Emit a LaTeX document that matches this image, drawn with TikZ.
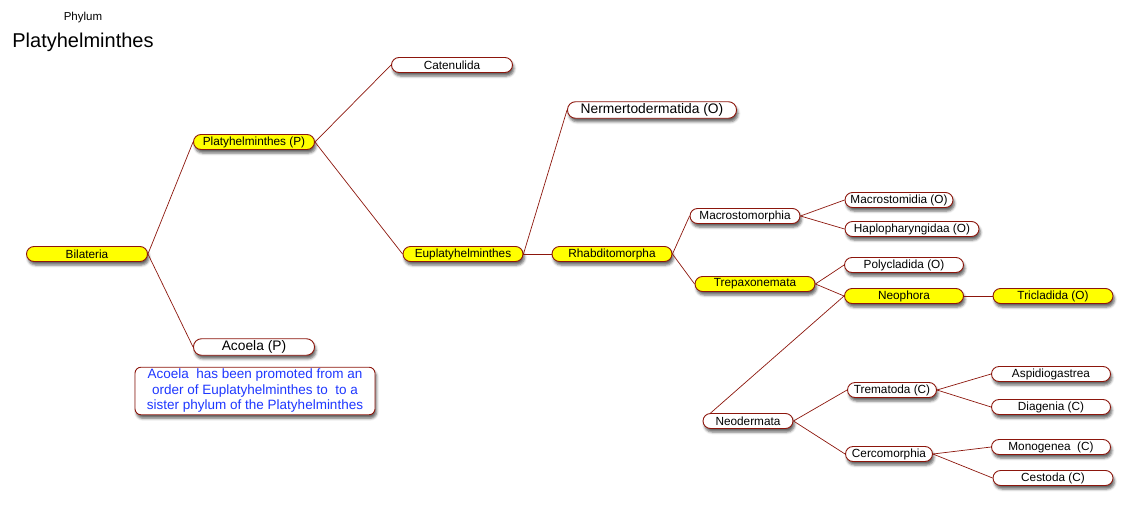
\documentclass[tikz,border=0pt]{standalone}
\usepackage{fontspec}
\setmainfont{Liberation Sans}
\usetikzlibrary{shadows.blur, positioning}
\definecolor{brick}{RGB}{140,22,12}
\definecolor{notetext}{RGB}{30,55,255}
\definecolor{hilite}{RGB}{255,255,0}

\begin{document}
\begin{tikzpicture}[
  x=1pt, y=-1pt,
  taxon/.style={draw=brick, line width=0.9pt, rounded corners=7.5pt, fill=#1,
    minimum height=15pt, inner sep=1pt, font=\fontsize{11.8}{12}\selectfont,
    blur shadow={shadow xshift=1.5pt, shadow yshift=-3.5pt, shadow opacity=60, shadow blur radius=2.5pt}},
  taxon/.default=white,
  bigtaxon/.style={minimum height=16.5pt, rounded corners=8pt, font=\fontsize{13.8}{14}\selectfont},
  link/.style={draw=brick, line width=0.7pt},
]
\useasboundingbox (0,0) rectangle (1133,509);

% Heading
\node (phylum) at (83,18) {\fontsize{11.5}{12}\selectfont Phylum};
\node (heading) at (83,42) {\fontsize{20}{22}\selectfont Platyhelminthes};

% Root and first split
\node[taxon=hilite, minimum width=121pt] (bilateria) at (87,254) {Bilateria};
\node[taxon=hilite, minimum width=121pt] (platy) at (254,142) {Platyhelminthes (P)};
\node[taxon, bigtaxon, minimum width=121pt] (acoela) at (254,347) {Acoela (P)};
\node[draw=brick, line width=0.9pt, rounded corners=6pt, fill=white, text=notetext,
  minimum width=240pt, minimum height=47pt, align=center, inner sep=2pt,
  font=\fontsize{13.5}{15.5}\selectfont,
  blur shadow={shadow xshift=1.5pt, shadow yshift=-3.5pt, shadow opacity=60, shadow blur radius=2.5pt}] (note) at (255,391)
  {Acoela\ \ has been promoted from an\\order of Euplatyhelminthes to\ \ to a\\sister phylum of the Platyhelminthes};

% Platyhelminthes
\node[taxon, minimum width=121pt] (catenulida) at (452,65) {Catenulida};
\node[taxon=hilite, minimum width=120pt] (eupla) at (463,254) {Euplatyhelminthes};
\node[taxon, bigtaxon, minimum width=169pt] (nermerto) at (652,110) {Nermertodermatida (O)};
\node[taxon=hilite, minimum width=120pt] (rhabdito) at (612,254) {Rhabditomorpha};

% Rhabditomorpha
\node[taxon, minimum width=110pt] (macrostomorphia) at (745,216) {Macrostomorphia};
\node[taxon=hilite, minimum width=120pt] (trepax) at (755,284) {Trepaxonemata};
\node[taxon, minimum width=108pt] (macrostomidia) at (899,200) {Macrostomidia (O)};
\node[taxon, minimum width=134pt] (haplo) at (912,229) {Haplopharyngidaa (O)};
\node[taxon, minimum width=119pt] (polyclad) at (904,265) {Polycladida (O)};
\node[taxon=hilite, minimum width=119pt] (neophora) at (904,296) {Neophora};
\node[taxon=hilite, minimum width=120pt] (triclad) at (1053,296) {Tricladida (O)};

% Neodermata
\node[taxon, minimum width=90pt] (neodermata) at (748,421) {Neodermata};
\node[taxon, minimum width=89pt] (trematoda) at (892,390) {Trematoda (C)};
\node[taxon, minimum width=87pt] (cercomorphia) at (889,454) {Cercomorphia};
\node[taxon, minimum width=119pt] (aspidio) at (1051,374) {Aspidiogastrea};
\node[taxon, minimum width=119pt] (diagenia) at (1051,407) {Diagenia (C)};
\node[taxon, minimum width=119pt] (monogenea) at (1051,447) {Monogenea\ \ (C)};
\node[taxon, minimum width=120pt] (cestoda) at (1053,478) {Cestoda (C)};

% Branches, parent east to child west
\foreach \p/\c in {bilateria/platy, bilateria/acoela, platy/catenulida, platy/eupla,
    eupla/nermerto, eupla/rhabdito, rhabdito/macrostomorphia, rhabdito/trepax,
    macrostomorphia/macrostomidia, macrostomorphia/haplo, trepax/polyclad, trepax/neophora,
    neophora/triclad, neodermata/trematoda, neodermata/cercomorphia,
    trematoda/aspidio, trematoda/diagenia, cercomorphia/monogenea, cercomorphia/cestoda}
  \draw[link] (\p.east) -- (\c.west);
\draw[link] (neophora.west) -- ([xshift=8pt]neodermata.north west);
\end{tikzpicture}
\end{document}
